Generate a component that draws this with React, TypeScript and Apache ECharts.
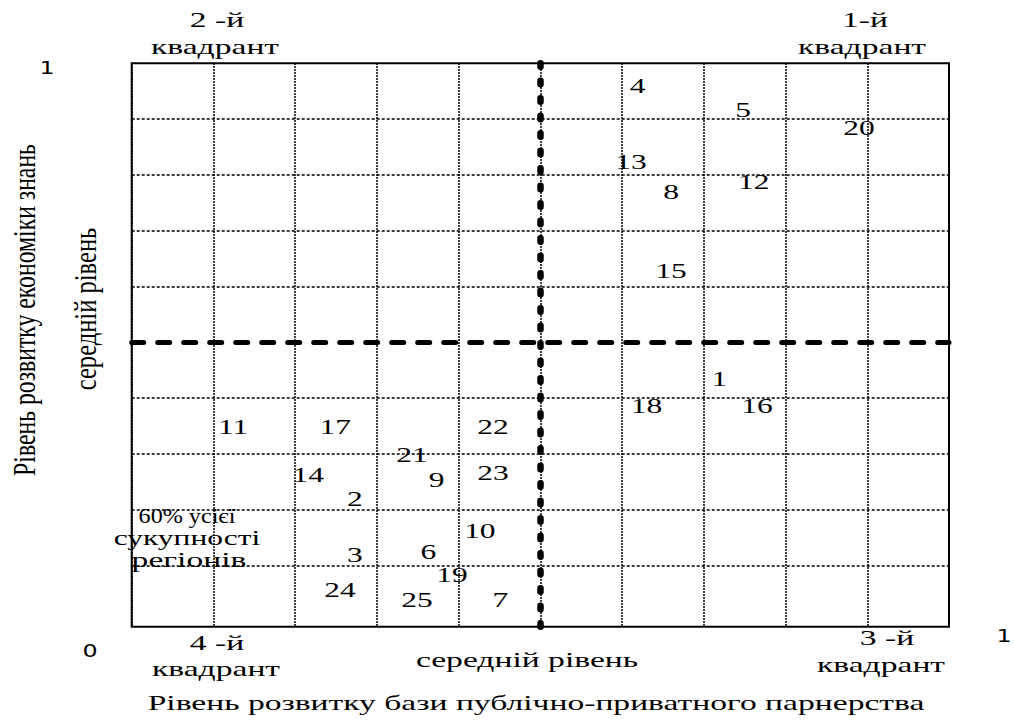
import React, { useEffect, useRef } from "react";
import * as echarts from "echarts";

// Region numbers and their coordinates (x: PPP base level, y: knowledge economy level)
const regionIds = ["4", "5", "20", "13", "12", "8", "15", "1", "18", "16", "11", "17", "22", "21", "14", "9", "23", "2", "10", "6", "3", "19", "24", "25", "7"];
const pppLevel = [0.619, 0.748, 0.89, 0.611, 0.761, 0.66, 0.66, 0.719, 0.63, 0.765, 0.124, 0.249, 0.442, 0.343, 0.216, 0.373, 0.442, 0.273, 0.426, 0.363, 0.273, 0.392, 0.255, 0.349, 0.451];
const knowledgeLevel = [0.959, 0.916, 0.884, 0.824, 0.788, 0.77, 0.627, 0.434, 0.386, 0.386, 0.349, 0.349, 0.349, 0.298, 0.262, 0.253, 0.266, 0.22, 0.162, 0.125, 0.119, 0.083, 0.056, 0.038, 0.038];

const hLines = [0.1, 0.2, 0.3, 0.4, 0.6, 0.7, 0.8, 0.9];
const midLevel = 0.5;

const SERIF = '"Liberation Serif", "Times New Roman", serif';
const SANS = '"DejaVu Sans", Verdana, sans-serif';
const FS = 21;
const SX = 1.6;

function txt(text: string, x: number, y: number, opts: any = {}) {
  return {
    type: "text",
    x,
    y,
    scaleX: opts.scaleX ?? SX,
    scaleY: opts.scaleY ?? 1,
    rotation: opts.rotation ?? 0,
    z: 100,
    style: {
      text,
      fontSize: opts.fontSize ?? FS,
      fontFamily: opts.fontFamily ?? SERIF,
      fill: "#000",
      align: "center",
      textAlign: "center",
      verticalAlign: "middle",
      textVerticalAlign: "middle",
    },
  };
}

export default function App() {
  const ref = useRef<HTMLDivElement>(null);
  useEffect(() => {
    if (!ref.current) return;
    const chart = echarts.init(ref.current, undefined, { renderer: "svg" });
    const data = pppLevel.map((x, i) => [x, knowledgeLevel[i]]);
    chart.setOption({
      animation: false,
      grid: {
        left: 131.7,
        right: 65,
        top: 63.3,
        bottom: 93.3,
        show: true,
        borderColor: "#000",
        borderWidth: 2,
        backgroundColor: "transparent",
      },
      xAxis: {
        type: "value",
        min: 0,
        max: 1,
        interval: 0.1,
        axisLine: { show: false },
        axisTick: { show: false },
        axisLabel: { show: false },
        splitLine: { show: true, lineStyle: { color: "#000", width: 2, type: [1.5, 1.5] } },
      },
      yAxis: {
        type: "value",
        min: -0.0097,
        max: 1,
        axisLine: { show: false },
        axisTick: { show: false },
        axisLabel: { show: false },
        splitLine: { show: false },
      },
      series: [
        {
          type: "line",
          data: [],
          silent: true,
          markLine: {
            silent: true,
            symbol: "none",
            label: { show: false },
            lineStyle: { color: "#000", width: 1.6, type: [3, 2] },
            data: hLines.map((v) => ({ yAxis: v })),
          },
        },
        {
          type: "line",
          data: [],
          silent: true,
          markLine: {
            silent: true,
            symbol: "none",
            label: { show: false },
            lineStyle: { color: "#000", width: 5, type: [12, 14], cap: "round" },
            data: [{ yAxis: midLevel }],
          },
        },
        {
          type: "line",
          data: [],
          silent: true,
          markLine: {
            silent: true,
            symbol: "none",
            label: { show: false },
            lineStyle: { color: "#000", width: 6.5, type: [3.5, 14], cap: "round" },
            data: [{ xAxis: midLevel }],
          },
        },
        {
          type: "custom",
          data,
          z: 10,
          renderItem: (params: any, api: any) => {
            const p = api.coord([api.value(0), api.value(1)]);
            return {
              type: "text",
              x: p[0],
              y: p[1],
              scaleX: 1.5,
              style: {
                text: regionIds[params.dataIndex],
                fontSize: FS,
                fontFamily: SERIF,
                fill: "#000",
                align: "center",
                verticalAlign: "middle",
              },
            };
          },
        },
      ],
      graphic: [
        txt("2 -й", 217, 20),
        txt("квадрант", 215, 47),
        txt("1-й", 865, 20),
        txt("квадрант", 862, 47),
        txt("4 -й", 217, 643),
        txt("квадрант", 216, 669),
        txt("3 -й", 887, 638),
        txt("квадрант", 881, 665),
        txt("середній рівень", 527, 660),
        txt("Рівень розвитку бази публічно-приватного парнерства", 536, 703),
        txt("60% усієї", 187, 516, { scaleX: 1.15 }),
        txt("сукупності", 187, 538, { scaleX: 1.5 }),
        txt("регіонів", 189, 560),
        txt("Рівень розвитку економіки знань", 24, 310, { rotation: Math.PI / 2, scaleX: 1.13, scaleY: 1.5 }),
        txt("середній рівень", 85, 309, { rotation: Math.PI / 2, scaleX: 1.17, scaleY: 1.5 }),
        txt("1", 47, 68, { fontFamily: SANS, fontSize: 17, scaleX: 1.4 }),
        txt("0", 90, 651, { fontFamily: SANS, fontSize: 17, scaleX: 1.4 }),
        txt("1", 1004, 636, { fontFamily: SANS, fontSize: 17, scaleX: 1.4 }),
      ],
    });
    return () => chart.dispose();
  }, []);
  return (
    <div
      ref={ref}
      style={{ position: "fixed", left: 0, top: 0, width: 1014, height: 720, background: "#fff" }}
    />
  );
}
